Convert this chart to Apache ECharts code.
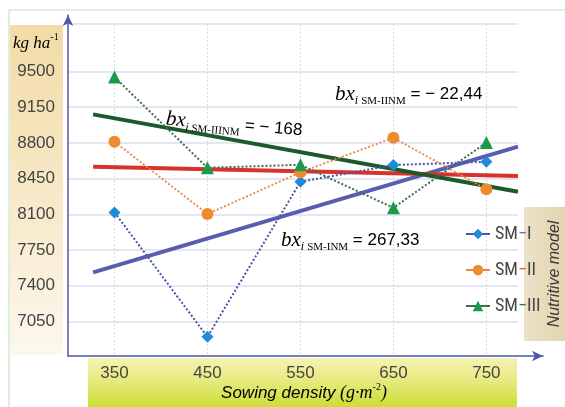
<!DOCTYPE html>
<html><head><meta charset="utf-8">
<script src="https://cdn.jsdelivr.net/npm/echarts@6.0.0/dist/echarts.min.js"></script>
<style>html,body{margin:0;padding:0;background:#fff}#c{width:565px;height:407px}</style>
</head><body><div id="c"></div>
<script>
const categories = [350, 450, 550, 650, 750];
const smI = [8119, 6899, 8419, 8583, 8616];
const smII = [8812, 8103, 8512, 8851, 8345];
const smIII = [9446, 8556, 8586, 8164, 8804];
const trendX = [327, 784];
const trendI = [7531, 8763];
const trendII = [8567, 8475];
const trendIII = [9080, 8321];
const yTicks = [7050, 7400, 7750, 8100, 8450, 8800, 9150, 9500];
const yGridLines = [7050, 7400, 7750, 8100, 8450, 8800, 9150, 9500, 9966];
const seriesNames = ['SM−I', 'SM−II', 'SM−III'];
const annotations = [
  { sub: 'SM-IIINM', val: ' = − 168' },
  { sub: 'SM-IINM', val: ' = − 22,44' },
  { sub: 'SM-INM', val: ' = 267,33' }
];

const pairs = (xs, ys) => xs.map((x, i) => [x, ys[i]]);
const chart = echarts.init(document.getElementById('c'), null, { renderer: 'canvas' });
const sans = 'Liberation Sans';
const narrow = '"Liberation Sans Narrow", "Roboto Condensed", "Liberation Sans"';
const serif = 'Liberation Serif';
const annRich = {
  b: { fontFamily: serif, fontStyle: 'italic', fontSize: 21, color: '#3c3c3c', lineHeight: 26, verticalAlign: 'middle' },
  i: { fontFamily: serif, fontStyle: 'italic', fontSize: 12, color: '#3c3c3c', lineHeight: 26, verticalAlign: 'bottom', padding: [0, 3, 0, 0] },
  s: { fontFamily: serif, fontSize: 11, color: '#3c3c3c', lineHeight: 26, verticalAlign: 'bottom' },
  v: { fontFamily: sans, fontSize: 17, color: '#3c3c3c', lineHeight: 26, verticalAlign: 'middle' }
};
const annText = a => '{b|bx}{i|i}{s|' + a.sub + '}{v|' + a.val + '}';
const legendColors = ['#6a6cc0', '#e0603a', '#2e7a40'];

chart.setOption({
  animation: false,
  backgroundColor: '#ffffff',
  grid: [
    { left: 68, right: 47, top: 24, bottom: 51 },
    { left: 68, right: 22, top: 15, bottom: 51 }
  ],
  xAxis: [
    {
      type: 'value', gridIndex: 0, min: 300, max: 784,
      axisLine: { show: false }, axisTick: { show: false, customValues: categories },
      axisLabel: { customValues: categories, fontFamily: sans, fontSize: 17, color: '#454545', margin: 9 },
      splitLine: { show: true, lineStyle: { type: [2, 2], color: '#dcdce4', width: 1 } }
    },
    {
      type: 'value', gridIndex: 1, min: 0, max: 1,
      axisLine: { show: true, onZero: false, symbol: ['none', 'arrow'], symbolSize: [8, 11], lineStyle: { color: '#4c58aa', width: 1.5 } },
      axisTick: { show: false }, axisLabel: { show: false }, splitLine: { show: false }
    }
  ],
  yAxis: [
    {
      type: 'value', gridIndex: 0, min: 6711, max: 9966,
      axisLine: { show: false }, axisTick: { show: false, customValues: yGridLines },
      axisLabel: { customValues: yTicks, formatter: v => String(v), fontFamily: sans, fontSize: 17, color: '#454545', margin: 13 },
      splitLine: { show: true, lineStyle: { color: '#dcdcf0', width: 1.5 } }
    },
    {
      type: 'value', gridIndex: 1, min: 0, max: 1,
      axisLine: { show: true, onZero: false, symbol: ['none', 'arrow'], symbolSize: [8, 11], lineStyle: { color: '#4c58aa', width: 1.5 } },
      axisTick: { show: false }, axisLabel: { show: false }, splitLine: { show: false }
    }
  ],
  legend: {
    data: seriesNames,
    orient: 'vertical', left: 460, top: 220, itemGap: 18,
    itemWidth: 24, itemHeight: 13,
    lineStyle: { type: 'solid', width: 2 },
    formatter: name => {
      const i = seriesNames.indexOf(name);
      const tail = name.split('−')[1];
      return '{t|SM}{d' + i + '|−}{t|' + tail + '}';
    },
    textStyle: {
      fontFamily: narrow, fontSize: 18, color: '#454545',
      rich: {
        t: { fontFamily: narrow, fontSize: 18, color: '#454545', lineHeight: 20 },
        d0: { fontFamily: narrow, fontSize: 18, color: legendColors[0], lineHeight: 20 },
        d1: { fontFamily: narrow, fontSize: 18, color: legendColors[1], lineHeight: 20 },
        d2: { fontFamily: narrow, fontSize: 18, color: legendColors[2], lineHeight: 20 }
      }
    }
  },
  series: [
    { name: 'trend I', type: 'line', data: pairs(trendX, trendI), symbol: 'none', lineStyle: { color: '#5a5cb0', width: 4 }, z: 2, silent: true },
    { name: 'trend II', type: 'line', data: pairs(trendX, trendII), symbol: 'none', lineStyle: { color: '#d8322c', width: 4 }, z: 2, silent: true },
    { name: 'trend III', type: 'line', data: pairs(trendX, trendIII), symbol: 'none', lineStyle: { color: '#1b5a2a', width: 4 }, z: 2, silent: true },
    { name: seriesNames[0], type: 'line', data: pairs(categories, smI), symbol: 'diamond', symbolSize: 12,
      itemStyle: { color: '#1f8ad6' }, lineStyle: { color: '#4a55a4', width: 2, type: [2, 2] }, z: 3 },
    { name: seriesNames[1], type: 'line', data: pairs(categories, smII), symbol: 'circle', symbolSize: 12,
      itemStyle: { color: '#f08a2e' }, lineStyle: { color: '#e8844c', width: 1.8, type: [2, 2] }, z: 3 },
    { name: seriesNames[2], type: 'line', data: pairs(categories, smIII), symbol: 'triangle', symbolSize: 13,
      itemStyle: { color: '#1c9a4c' }, lineStyle: { color: '#3e6e4c', width: 2, type: [2, 2] }, z: 3 }
  ],
  graphic: [
    { type: 'line', shape: { x1: 9, y1: 10, x2: 565, y2: 10 }, style: { stroke: '#d3ebcf', lineWidth: 1.5 }, z: -5 },
    { type: 'line', shape: { x1: 9, y1: 10, x2: 9, y2: 407 }, style: { stroke: '#d3ebcf', lineWidth: 1.5 }, z: -5 },
    { type: 'rect', shape: { x: 10, y: 25, width: 53, height: 330 }, z: -5,
      style: { fill: new echarts.graphic.LinearGradient(0, 0, 0, 1, [{ offset: 0, color: '#f2dba6' }, { offset: 0.6, color: '#f8ebcd' }, { offset: 1, color: '#fdf8ee' }]) } },
    { type: 'rect', shape: { x: 88, y: 358, width: 429, height: 49 }, z: -5,
      style: { fill: new echarts.graphic.LinearGradient(0, 0, 0, 1, [{ offset: 0, color: '#f5f2b4' }, { offset: 0.5, color: '#e6e97a' }, { offset: 1, color: '#cadd34' }]) } },
    { type: 'rect', shape: { x: 524, y: 207, width: 41, height: 134 }, z: -5,
      style: { fill: new echarts.graphic.LinearGradient(0, 0, 1, 0, [{ offset: 0, color: '#ece2c8' }, { offset: 1, color: '#e2d4ae' }]) } },
    { type: 'text', x: 555, y: 274, rotation: Math.PI / 2, z: 50,
      style: { text: 'Nutritive model', fontFamily: sans, fontStyle: 'italic', fontSize: 16, fill: '#3a3a3a', textAlign: 'center', textVerticalAlign: 'middle' } },
    { type: 'text', x: 13, y: 42, z: 50,
      style: { text: '{u|kg ha}{p|-1}', textVerticalAlign: 'middle',
        rich: { u: { fontFamily: serif, fontStyle: 'italic', fontSize: 17, color: '#3a3a3a', lineHeight: 20, verticalAlign: 'bottom' },
                p: { fontFamily: serif, fontSize: 10, color: '#3a3a3a', lineHeight: 20, verticalAlign: 'top' } } } },
    { type: 'text', x: 304, y: 393, z: 50,
      style: { text: '{a|Sowing density }{b|(g·m}{c|-2}{b|)}', textAlign: 'center', textVerticalAlign: 'middle',
        rich: { a: { fontFamily: sans, fontStyle: 'italic', fontSize: 17, color: '#3a3a3a', lineHeight: 22, verticalAlign: 'middle' },
                b: { fontFamily: serif, fontStyle: 'italic', fontSize: 18, color: '#3a3a3a', lineHeight: 22, verticalAlign: 'middle' },
                c: { fontFamily: serif, fontSize: 10, color: '#3a3a3a', lineHeight: 22, verticalAlign: 'top' } } } },
    { type: 'text', x: 166, y: 119, rotation: -0.085, z: 50,
      style: { text: annText(annotations[0]), rich: annRich, textVerticalAlign: 'middle' } },
    { type: 'text', x: 335, y: 94, z: 50,
      style: { text: annText(annotations[1]), rich: annRich, textVerticalAlign: 'middle' } },
    { type: 'text', x: 281, y: 240, z: 50,
      style: { text: annText(annotations[2]), rich: annRich, textVerticalAlign: 'middle' } }
  ]
});
</script></body></html>
